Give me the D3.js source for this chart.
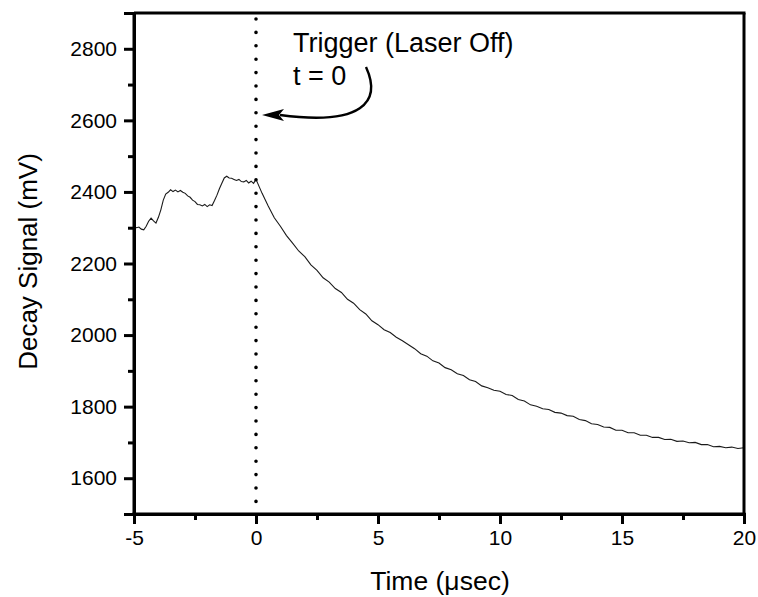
<!DOCTYPE html>
<html><head><meta charset="utf-8">
<script src="https://cdn.jsdelivr.net/npm/d3@7"></script>
<style>
html,body{margin:0;padding:0;background:#fff;}
text{font-family:"Liberation Sans",Arial,sans-serif;fill:#000;}
</style></head>
<body><svg id="c" width="758" height="597"></svg>
<script>
const timeUs = [-5,-4.9,-4.8,-4.7,-4.6,-4.5,-4.4,-4.3,-4.2,-4.1,-4,-3.9,-3.8,-3.7,-3.6,-3.5,-3.4,-3.3,-3.2,-3.1,
-3,-2.9,-2.8,-2.7,-2.6,-2.5,-2.4,-2.3,-2.2,-2.1,-2,-1.9,-1.8,-1.7,-1.6,-1.5,-1.4,-1.3,-1.2,-1.1,
-1,-0.9,-0.8,-0.7,-0.6,-0.5,-0.4,-0.3,-0.2,-0.1,
0,0.25,0.5,0.75,1,1.25,1.5,1.75,2,2.25,2.5,2.75,3,3.25,3.5,3.75,4,4.25,4.5,4.75,
5,5.25,5.5,5.75,6,6.25,6.5,6.75,7,7.25,7.5,7.75,8,8.25,8.5,8.75,9,9.25,9.5,9.75,
10,10.25,10.5,10.75,11,11.25,11.5,11.75,12,12.25,12.5,12.75,13,13.25,13.5,13.75,14,14.25,14.5,14.75,
15,15.25,15.5,15.75,16,16.25,16.5,16.75,17,17.25,17.5,17.75,18,18.25,18.5,18.75,19,19.25,19.5,19.75,20];
const signalMv = [2303,2300,2302,2296,2294,2304,2318,2327,2319,2313,2329,2350,2377,2394,2399,2406,2401,2405,2400,2404,
2399,2396,2389,2385,2377,2373,2365,2364,2361,2365,2359,2364,2362,2376,2391,2409,2424,2439,2444,2439,
2438,2435,2432,2435,2429,2428,2432,2425,2430,2424,
2435,2396,2361,2328,2304,2278,2257,2235,2219,2196,2181,2160,2148,2130,2119,2100,2089,2071,2059,2040,
2029,2015,2007,1994,1984,1973,1962,1948,1941,1928,1922,1909,1903,1892,1887,1875,1870,1858,1853,1846,
1843,1834,1831,1820,1816,1805,1801,1794,1792,1784,1782,1775,1773,1764,1761,1752,1750,1743,1742,1734,
1734,1727,1727,1720,1720,1714,1714,1708,1709,1703,1704,1699,1700,1694,1694,1688,1689,1685,1687,1683,1685];
const xTicks = [-5,0,5,10,15,20];
const xMinor = [-2.5,2.5,7.5,12.5,17.5];
const yTicks = [1600,1800,2000,2200,2400,2600,2800];
const yMinor = [1500,1700,1900,2100,2300,2500,2700,2900];
const xTitle = "Time (\u03bcsec)";
const yTitle = "Decay Signal (mV)";
const noteLines = ["Trigger (Laser Off)", "t = 0"];

const svg = d3.select("#c");
const L=134, R=744, T=13, B=514;
const x = d3.scaleLinear().domain([-5,20]).range([L,R]);
const y = d3.scaleLinear().domain([1500,2900]).range([B,T]);
const fmt = d => String(d);

// data line
svg.append("path")
  .datum(d3.zip(timeUs, signalMv))
  .attr("fill","none").attr("stroke","#1a1a1a").attr("stroke-width",1.1)
  .attr("d", d3.line().x(d=>x(d[0])).y(d=>y(d[1])));

// dotted trigger line
svg.append("line")
  .attr("x1",x(0)).attr("x2",x(0)).attr("y1",y(2900)+6).attr("y2",y(1500))
  .attr("stroke","#000").attr("stroke-width",3.6).attr("stroke-linecap","round")
  .attr("stroke-dasharray","0,13.4");

// frame top/right
svg.append("line").attr("x1",L).attr("x2",R+1.5).attr("y1",T).attr("y2",T).attr("stroke","#000").attr("stroke-width",3);
svg.append("line").attr("x1",R).attr("x2",R).attr("y1",T).attr("y2",B).attr("stroke","#000").attr("stroke-width",3);

// axes
const gx = svg.append("g").attr("transform",`translate(0,${B})`)
  .call(d3.axisBottom(x).tickValues(xTicks).tickSize(10).tickPadding(6).tickFormat(fmt));
const gxm = svg.append("g").attr("transform",`translate(0,${B})`)
  .call(d3.axisBottom(x).tickValues(xMinor).tickSize(6).tickFormat(""));
const gy = svg.append("g").attr("transform",`translate(${L},0)`)
  .call(d3.axisLeft(y).tickValues(yTicks).tickSize(10).tickPadding(7).tickFormat(fmt));
const gym = svg.append("g").attr("transform",`translate(${L},0)`)
  .call(d3.axisLeft(y).tickValues(yMinor).tickSize(6).tickFormat(""));
[gx,gxm,gy,gym].forEach(g=>{
  g.selectAll(".domain").attr("stroke","#000").attr("stroke-width",3);
  g.selectAll(".tick line").attr("stroke","#000").attr("stroke-width",3);
  g.selectAll("text").style("font-size","21px").style("font-family","'Liberation Sans',Arial,sans-serif").attr("fill","#000");
});
gym.select(".domain").attr("d",`M0,${T}V${B+1.5}`);
gxm.select(".domain").attr("d",`M${L-1.5},0H${R+1.5}`);

// titles
svg.append("text").attr("x",(L+R)/2+1).attr("y",590).attr("text-anchor","middle")
  .style("font-size","26.5px").text(xTitle);
svg.append("text").attr("transform",`translate(37,${(T+B)/2-2}) rotate(-90)`).attr("text-anchor","middle")
  .style("font-size","26px").text(yTitle);

// annotation
svg.append("text").attr("x",x(0)+37).attr("y",52).style("font-size","27px").text(noteLines[0]);
svg.append("text").attr("x",x(0)+37).attr("y",85).style("font-size","27px").text(noteLines[1]);
const tipX = x(0)+6, tipY = y(2615);
svg.append("path")
  .attr("d",`M366,67 C382,102 362,126 ${tipX+18},${tipY}`)
  .attr("fill","none").attr("stroke","#000").attr("stroke-width",2.4);
svg.append("path")
  .attr("d",`M${tipX},${tipY} L${tipX+22},${tipY-6} L${tipX+17},${tipY} L${tipX+22},${tipY+6} Z`)
  .attr("fill","#000");
</script></body></html>
